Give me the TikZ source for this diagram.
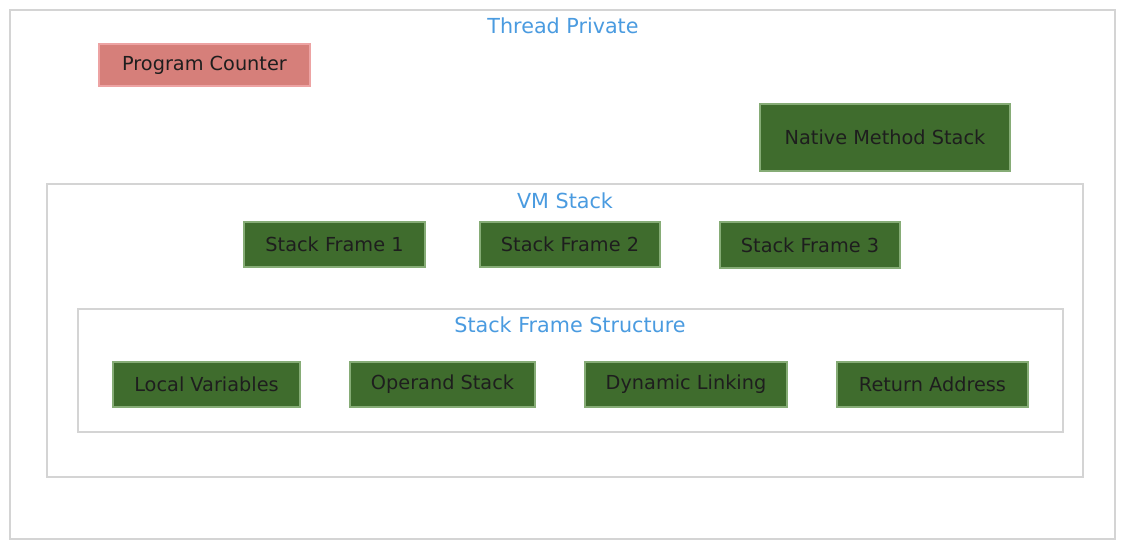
\documentclass[tikz,border=0pt]{standalone}
\usepackage{fontspec}
\setmainfont{DejaVu Sans}
\definecolor{gfill}{HTML}{3F6C2D}
\definecolor{gline}{HTML}{86AC76}
\definecolor{pfill}{HTML}{D67F7A}
\definecolor{pline}{HTML}{EDA3A3}
\definecolor{frame}{HTML}{D4D4D4}
\definecolor{ttl}{HTML}{4A9BE0}
\definecolor{ink}{HTML}{1E1E1E}
\begin{document}
\begin{tikzpicture}[x=1pt,y=-1pt,
  container/.style={draw=frame,line width=1.6pt},
  title/.style={text=ttl,font=\fontsize{20.7}{24}\selectfont,anchor=center},
  gbox/.style={draw=gline,fill=gfill,line width=1.4pt},
  pbox/.style={draw=pline,fill=pfill,line width=1.4pt},
  lbl/.style={text=ink,font=\fontsize{19.3}{22}\selectfont,anchor=center}]
\useasboundingbox (0,0) rectangle (1125,548);
\fill[white] (0,0) rectangle (1125,548);
% containers
\draw[container] (10,10) rectangle (1115,539);
\node[title] (tp) at (563,26) {Thread Private};
\draw[container] (47,184) rectangle (1083,477);
\node[title] (vm) at (565,201) {VM Stack};
\draw[container] (78,309) rectangle (1063,432);
\node[title] (sfs) at (570,325) {Stack Frame Structure};
% boxes
\draw[pbox] (99,44) rectangle (310,86);
\node[lbl] (pc) at (204.5,65) {Program Counter};
\draw[gbox] (760,104) rectangle (1010,171);
\node[lbl] (nms) at (885,137.5) {Native Method Stack};
\draw[gbox] (244,222) rectangle (425,267);
\node[lbl] (sf1) at (334.5,244.5) {Stack Frame 1};
\draw[gbox] (480,222) rectangle (660,267);
\node[lbl] (sf2) at (570,244.5) {Stack Frame 2};
\draw[gbox] (720,222) rectangle (900,268);
\node[lbl] (sf3) at (810,245) {Stack Frame 3};
\draw[gbox] (113,362) rectangle (300,407);
\node[lbl] (lv) at (206.5,384.5) {Local Variables};
\draw[gbox] (350,362) rectangle (535,407);
\node[lbl] (os) at (442.5,384.5) {Operand Stack};
\draw[gbox] (585,362) rectangle (787,407);
\node[lbl] (dl) at (686,384.5) {Dynamic Linking};
\draw[gbox] (837,362) rectangle (1028,407);
\node[lbl] (ra) at (932.5,384.5) {Return Address};
\end{tikzpicture}
\end{document}
